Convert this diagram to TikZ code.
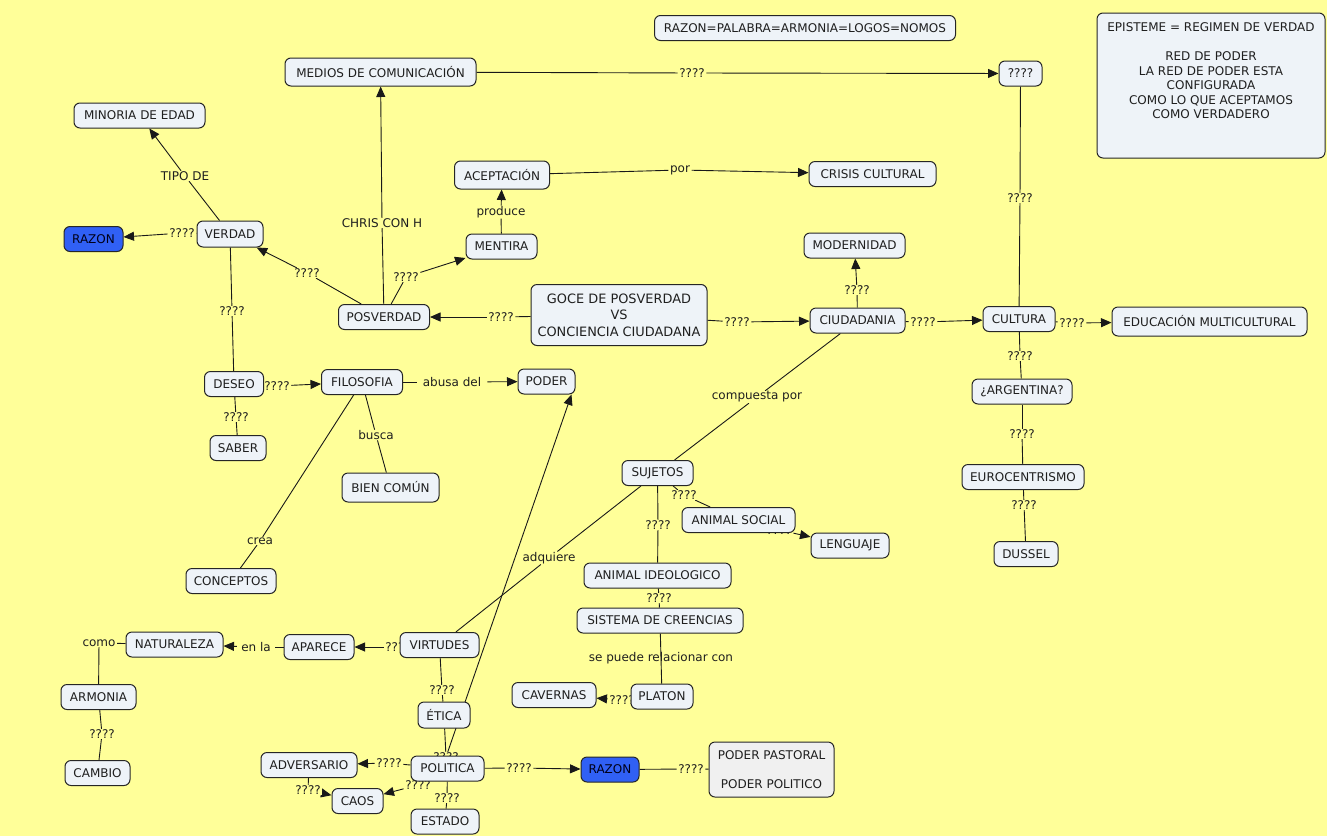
\documentclass[tikz,border=0pt]{standalone}
\usepackage{fontspec}
\setmainfont{DejaVu Sans}
\usetikzlibrary{arrows.meta,calc}
\definecolor{bgy}{RGB}{255,255,153}
\definecolor{nfill}{RGB}{238,243,248}
\definecolor{bluefill}{RGB}{48,96,245}
\definecolor{grayfill}{RGB}{240,240,240}
\pgfdeclarelayer{bgl}\pgfdeclarelayer{lines}\pgfdeclarelayer{labels}
\pgfsetlayers{bgl,lines,labels,main}
\newcommand{\fs}{\fontsize{12}{14.5}\selectfont}
\tikzset{
 cn/.style={draw=black!85, line width=1pt, rounded corners=6pt, fill=nfill, inner sep=2pt, minimum height=25pt, font=\fs, text=black!88, align=center},
 bn/.style={cn, fill=bluefill, text=black!90!blue},
 lp/.style={fill=bgy, inner xsep=1.5pt, inner ysep=0.5pt, font=\fs, text=black!88},
 ln/.style={draw=black!90, line width=0.9pt},
 arr/.style={ln, -{Triangle[length=10.5pt,width=9pt]}},
}
\begin{document}
\begin{tikzpicture}[x=1pt,y=-1pt]
\begin{pgfonlayer}{bgl}
\fill[bgy] (0,0) rectangle (1327,836);
\end{pgfonlayer}
\useasboundingbox (0,0) rectangle (1327,836);

% concepts
\node[cn, minimum width=301] (rpal) at (805,28) {RAZON=PALABRA=ARMONIA=LOGOS=NOMOS};
\node[cn, minimum width=228, minimum height=145] (epi) at (1211,85.5) {EPISTEME = REGIMEN DE VERDAD\\~\\RED DE PODER\\LA RED DE PODER ESTA\\CONFIGURADA\\COMO LO QUE ACEPTAMOS\\COMO VERDADERO\\~\\~};
\node[cn, minimum width=191, minimum height=28] (medios) at (380.5,72) {MEDIOS DE COMUNICACIÓN};
\node[cn, minimum width=43] (qtop) at (1020.5,73.5) {????};
\node[cn, minimum width=131] (minoria) at (139.5,115.5) {MINORIA DE EDAD};
\node[cn, minimum width=95, minimum height=28] (acept) at (502,175) {ACEPTACIÓN};
\node[cn, minimum width=127] (crisis) at (872.5,174) {CRISIS CULTURAL};
\node[cn, minimum width=66, minimum height=26] (verdad) at (230,234) {VERDAD};
\node[bn, minimum width=59] (razon1) at (93.5,239) {RAZON};
\node[cn, minimum width=71] (mentira) at (501.5,246.5) {MENTIRA};
\node[cn, minimum width=101] (modern) at (854.5,245.5) {MODERNIDAD};
\node[cn, minimum width=91] (posv) at (384,317) {POSVERDAD};
\node[cn, minimum width=176, minimum height=61, font=\fontsize{12.9}{16.5}\selectfont] (goce) at (619,315) {GOCE DE POSVERDAD\\VS\\CONCIENCIA CIUDADANA};
\node[cn, minimum width=95] (ciud) at (857.5,320.5) {CIUDADANIA};
\node[cn, minimum width=72] (cultura) at (1019,319) {CULTURA};
\node[cn, minimum width=195, minimum height=29] (educ) at (1209.5,321.5) {EDUCACIÓN MULTICULTURAL};
\node[cn, minimum width=59] (deseo) at (234,384) {DESEO};
\node[cn, minimum width=81] (filo) at (362,382) {FILOSOFIA};
\node[cn, minimum width=57] (poder) at (546.5,381.5) {PODER};
\node[cn, minimum width=100] (arg) at (1022,391.5) {¿ARGENTINA?};
\node[cn, minimum width=56] (saber) at (238,448) {SABER};
\node[cn, minimum width=97, minimum height=29] (bien) at (390.5,487.5) {BIEN COMÚN};
\node[cn, minimum width=71] (sujetos) at (657.5,473) {SUJETOS};
\node[cn, minimum width=122] (euro) at (1023,477) {EUROCENTRISMO};
\node[cn, minimum width=113] (asocial) at (738.5,520) {ANIMAL SOCIAL};
\node[cn, minimum width=78] (leng) at (850,545.5) {LENGUAJE};
\node[cn, minimum width=64] (dussel) at (1026,554) {DUSSEL};
\node[cn, minimum width=90] (concep) at (231,581) {CONCEPTOS};
\node[cn, minimum width=147] (aideo) at (657.5,575.5) {ANIMAL IDEOLOGICO};
\node[cn, minimum width=166] (sistema) at (660,620.5) {SISTEMA DE CREENCIAS};
\node[cn, minimum width=97] (natur) at (174.5,644.5) {NATURALEZA};
\node[cn, minimum width=70] (aparece) at (319,647) {APARECE};
\node[cn, minimum width=79] (virt) at (439.5,645) {VIRTUDES};
\node[cn, minimum width=84] (cav) at (554,695) {CAVERNAS};
\node[cn, minimum width=62] (platon) at (662,696.5) {PLATON};
\node[cn, minimum width=75] (armonia) at (98.5,697) {ARMONIA};
\node[cn, minimum width=52, minimum height=26] (etica) at (444,715) {ÉTICA};
\node[cn, fill=grayfill, minimum width=125, minimum height=55] (ppast) at (771.5,769.5) {PODER PASTORAL\\~\\PODER POLITICO};
\node[cn, minimum width=96] (adv) at (309,765) {ADVERSARIO};
\node[cn, minimum width=73] (polit) at (447.5,768.5) {POLITICA};
\node[bn, minimum width=58] (razon2) at (610,769.5) {RAZON};
\node[cn, minimum width=65] (cambio) at (97.5,773) {CAMBIO};
\node[cn, minimum width=51] (caos) at (357.5,801) {CAOS};
\node[cn, minimum width=68] (estado) at (445,821.5) {ESTADO};

% linking phrases
\begin{pgfonlayer}{labels}
\node[lp] (l1) at (692,73) {????};
\node[lp] (l2) at (1020,198) {????};
\node[lp] (l3) at (680,170) {por};
\node[lp] (l4) at (501,212) {produce};
\node[lp] (l5) at (185,176) {TIPO DE};
\node[lp] (l6) at (182,233) {????};
\node[lp] (l7) at (307,273) {????};
\node[lp] (l8) at (406,277) {????};
\node[lp] (l9) at (382,223) {CHRIS CON H};
\node[lp] (l10) at (501,317) {????};
\node[lp] (l11) at (737,322) {????};
\node[lp] (l12) at (857,290) {????};
\node[lp] (l13) at (923,322) {????};
\node[lp] (l14) at (1072,323) {????};
\node[lp] (l15) at (1020,356) {????};
\node[lp] (l16) at (1022,434) {????};
\node[lp] (l17) at (1024,505) {????};
\node[lp] (l18) at (757,397) {compuesta por};
\node[lp] (l19) at (232,311) {????};
\node[lp] (l20) at (277,386) {????};
\node[lp] (l21) at (236,417) {????};
\node[lp, inner xsep=6pt] (l22) at (452,382) {abusa del};
\node[lp] (l23) at (376,435) {busca};
\node[lp] (l24) at (260,541) {crea};
\node[lp] (l25) at (549,558) {adquiere};
\node[lp] (l26) at (446,757) {????};
\node[lp] (l27) at (442,690) {????};
\node[lp] (l28) at (398,647) {????};
\node[lp, inner xsep=4pt] (l29) at (256,647) {en la};
\node[lp] (l30) at (99,643) {como};
\node[lp] (l31) at (102,734) {????};
\node[lp] (l32) at (684,495) {????};
\node[lp] (l33) at (658,525) {????};
\node[lp] (l34) at (779,530) {????};
\node[lp] (l35) at (659,598) {????};
\node[lp, fill=none] (l36) at (661,658) {se puede relacionar con};
\node[lp] (l37) at (622,700) {????};
\node[lp] (l38) at (389,763) {????};
\node[lp] (l39) at (418,785) {????};
\node[lp] (l40) at (308,790) {????};
\node[lp] (l41) at (447,798) {????};
\node[lp] (l42) at (519,768) {????};
\node[lp] (l43) at (691,769) {????};
\end{pgfonlayer}

% connectors
\begin{pgfonlayer}{lines}
\draw[ln] (medios) -- (l1); \draw[arr] (l1) -- (qtop);
\draw[ln] (qtop) -- (l2); \draw[ln] (l2) -- (cultura);
\draw[ln] (acept) -- (l3); \draw[arr] (l3) -- (crisis);
\draw[ln] (mentira) -- (l4); \draw[arr] (l4) -- (acept);
\draw[ln] (verdad) -- (l5); \draw[arr] (l5) -- (minoria);
\draw[ln] (verdad) -- (l6); \draw[arr] (l6) -- (razon1);
\draw[ln] (posv) -- (l7); \draw[arr] (l7) -- (verdad);
\draw[ln] (posv) -- (l8); \draw[arr] (l8) -- (mentira);
\draw[ln] (posv) -- (l9); \draw[arr] (l9) -- (medios);
\draw[ln] (goce) -- (l10); \draw[arr] (l10) -- (posv);
\draw[ln] (goce) -- (l11); \draw[arr] (l11) -- (ciud);
\draw[ln] (ciud) -- (l12); \draw[arr] (l12) -- (modern);
\draw[ln] (ciud) -- (l13); \draw[arr] (l13) -- (cultura);
\draw[ln] (cultura) -- (l14); \draw[arr] (l14) -- (educ);
\draw[ln] (cultura) -- (l15); \draw[ln] (l15) -- (arg);
\draw[ln] (arg) -- (l16); \draw[ln] (l16) -- (euro);
\draw[ln] (euro) -- (l17); \draw[ln] (l17) -- (dussel);
\draw[ln] (ciud) -- (l18); \draw[ln] (l18) -- (sujetos);
\draw[ln] (verdad) -- (l19); \draw[ln] (l19) -- (deseo);
\draw[arr] (l20) -- (filo);
\draw[ln] (deseo) -- (l21); \draw[ln] (l21) -- (saber);
\draw[ln] (filo) -- (l22); \draw[arr] (l22) -- (poder);
\draw[ln] (filo) -- (l23); \draw[ln] (l23) -- (bien);
\draw[ln] (filo) -- (l24); \draw[ln] (l24) -- (concep);
\draw[ln] (sujetos) -- (l25); \draw[ln] (l25) -- (virt);
\draw[ln] (etica) -- (l26); \draw[arr] (l26) -- ([xshift=-4pt]poder.south east);
\draw[ln] (virt) -- (l27); \draw[ln] (l27) -- (etica);
\draw[arr] (l28) -- (aparece);
\draw[ln] (aparece) -- (l29); \draw[arr] (l29) -- (natur);
\draw[ln] (natur) -- (l30); \draw[ln] (l30) -- (armonia);
\draw[ln] (armonia) -- (l31); \draw[ln] (l31) -- (cambio);
\draw[ln] (sujetos) -- (l32); \draw[ln] (l32) -- (asocial);
\draw[ln] (sujetos) -- (l33); \draw[ln] (l33) -- (aideo);
\draw[arr] (l34) -- (leng);
\draw[ln] (aideo) -- (l35); \draw[ln] (l35) -- (sistema);
\draw[ln] (sistema) -- (platon);
\draw[arr] (l37) -- (cav);
\draw[ln] (polit) -- (l38); \draw[arr] (l38) -- (adv);
\draw[ln] (polit) -- (l39); \draw[arr] (l39) -- (caos);
\draw[ln] (adv) -- (l40); \draw[arr] (l40) -- (caos);
\draw[ln] (polit) -- (l41); \draw[ln] (l41) -- (estado);
\draw[ln] (polit) -- (l42); \draw[arr] (l42) -- (razon2);
\draw[ln] (razon2) -- (l43); \draw[ln] (l43) -- (ppast);
\end{pgfonlayer}
\end{tikzpicture}
\end{document}
